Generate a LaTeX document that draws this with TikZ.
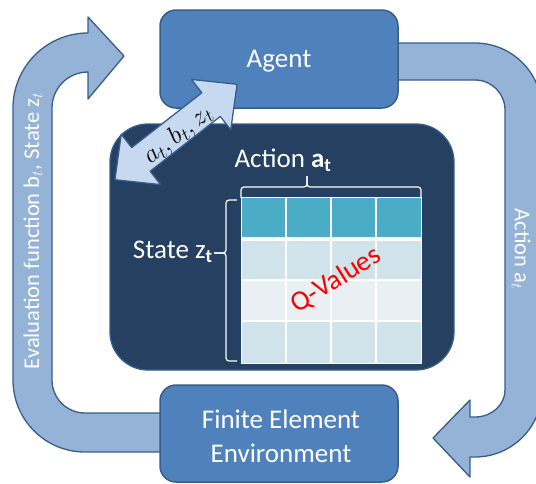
\documentclass[tikz,border=0pt]{standalone}
\usepackage{fix-cm}
\usepackage{fontspec}
\setmainfont{Carlito}

\definecolor{boxblue}{RGB}{79,129,189}
\definecolor{edgeblue}{RGB}{56,93,138}
\definecolor{bandblue}{RGB}{149,179,215}
\definecolor{panelnavy}{RGB}{37,64,97}
\definecolor{paleblue}{RGB}{198,217,241}
\definecolor{headteal}{RGB}{75,172,198}
\definecolor{rowdark}{RGB}{208,226,234}
\definecolor{rowlight}{RGB}{233,240,244}

\begin{document}
\begin{tikzpicture}[x=1pt,y=-1pt,
  band/.style={fill=bandblue,draw=edgeblue,line width=1.3pt,line join=round},
  block/.style={rectangle,rounded corners=16pt,fill=boxblue,draw=edgeblue,
    line width=1.5pt,minimum width=238pt,minimum height=98pt,inner sep=0pt},
  panel/.style={rectangle,rounded corners=38pt,fill=panelnavy,draw=edgeblue,
    line width=1.3pt,minimum width=344pt,minimum height=246pt,inner sep=0pt},
  bigtext/.style={text=white,font=\fontsize{27}{34}\selectfont,inner sep=0pt},
  bandtext/.style={text=white,font=\fontsize{22.5}{26}\selectfont,inner sep=0pt},
  brace/.style={draw=white,line width=1.2pt,rounded corners=3pt},
  grid/.style={draw=white,line width=1.1pt}
]
\useasboundingbox (0,0) rectangle (536,483);

% Return loop: environment -> agent (left band with head)
\path[band] (166,413) -- (85,413)
  .. controls (66.8,413) and (52,398.2) .. (52,380)
  -- (52,108)
  .. controls (52,88.1) and (68.1,72) .. (88,72)
  -- (88,99) -- (124,56) -- (88,17) -- (88,33)
  .. controls (46.6,33) and (13,66.6) .. (13,108)
  -- (13,380)
  .. controls (13,419.8) and (45.2,452) .. (85,452)
  -- (166,452) -- cycle;

% Action loop: agent -> environment (right band with head)
\path[band] (392,43) -- (475,43)
  .. controls (512,43) and (542,73) .. (542,110)
  -- (542,390)
  .. controls (542,427) and (512,457) .. (475,457)
  -- (470,457) -- (470,477) -- (433,438) -- (470,400) -- (470,417)
  -- (475,417)
  .. controls (491.6,417) and (505,404.9) .. (505,390)
  -- (505,110)
  .. controls (505,93.4) and (491.6,80) .. (475,80)
  -- (392,80) -- cycle;

% Boxes
\node[block] (agent) at (279,59) {};
\node[block,minimum height=97pt] (env) at (279,433.5) {};
\node[panel] (qpanel) at (282,247) {};

\node[bigtext,anchor=base] (agentlbl) at (279,67) {Agent};
\node[bigtext,align=center] (envlbl) at (281,436) {Finite Element\\Environment};

% Band labels
\node[bandtext,rotate=90] (evallbl) at (33,231) {Evaluation function b$_t$, State z$_t$};
\node[bandtext,rotate=-90] (actlbl) at (521,249) {Action a$_t$};

% Q-table
\fill[headteal] (241,197) rectangle (421,237);
\fill[rowdark]  (241,241) rectangle (421,280);
\fill[rowlight] (241,280) rectangle (421,321);
\fill[rowdark]  (241,321) rectangle (421,363);
\fill[white] (241,237) rectangle (421,241);
\draw[grid] (241,280) -- (421,280) (241,321) -- (421,321);
\draw[grid] (286,197) -- (286,363) (331,197) -- (331,363) (376,197) -- (376,363);
\draw[grid,line width=0.8pt] (241,197) rectangle (421,363);

% Braces
\draw[brace] (241,198) -- (241,187) -- (307,187) -- (307,176);
\draw[brace] (307,176) -- (307,187) -- (421,187) -- (421,198);
\draw[brace] (237,200) -- (226,200) -- (226,253) -- (214,253);
\draw[brace] (214,253) -- (226,253) -- (226,361) -- (237,361);

\node[bigtext,anchor=base] (actionlbl) at (283,167) {Action $\mathbf{a}_{\mathbf{t}}$};
\node[bigtext,anchor=base east] (statelbl) at (213,258) {State z$_{\mathbf{t}}$};
\node[text=red,font=\fontsize{28}{32}\selectfont,rotate=32,inner sep=0pt] (qlbl) at (336,280) {Q-Values};

% Exchange arrow between agent and Q-table
\begin{scope}[shift={(176,132)},rotate=38]
  \path[fill=paleblue,draw=edgeblue,line width=1.3pt,line join=round]
    (77.5,0) -- (44.5,32) -- (44.5,15) -- (-44.5,15) -- (-44.5,32)
    -- (-77.5,0) -- (-44.5,-32) -- (-44.5,-15) -- (44.5,-15) -- (44.5,-32) -- cycle;
\end{scope}
\node[rotate=38,font=\fontsize{26}{30}\selectfont,inner sep=0pt] (xchg) at (178,135) {$a_t, b_t, z_t$};
\end{tikzpicture}
\end{document}
